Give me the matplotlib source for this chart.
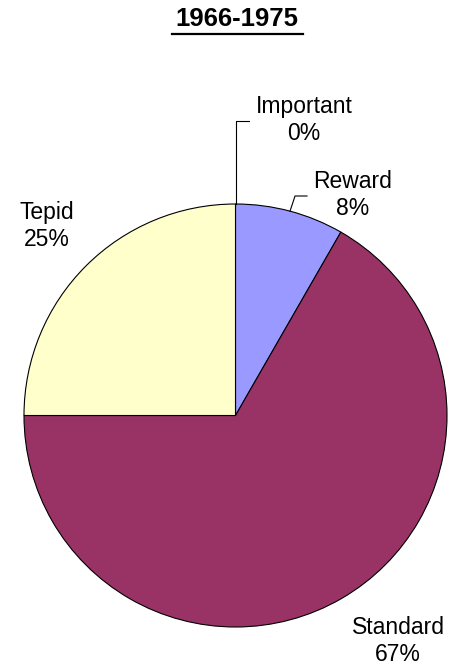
import numpy as np
import matplotlib.pyplot as plt

# slice data (clockwise from 12 o'clock)
labels = ['Important', 'Reward', 'Standard', 'Tepid']
shares = [0.0, 8.3, 66.7, 25.0]
colors = ['#FF8080', '#9999FF', '#993366', '#FFFFCC']
title = '1966-1975'

W, H = 450, 668
fig = plt.figure(figsize=(W / 100, H / 100), dpi=100)
ax = fig.add_axes([0, 0, 1, 1])

font = 'Liberation Sans'
cx, cy, r = 235.5, H - 415.5, 211.5

wedges, _ = ax.pie(shares, colors=colors, startangle=90, counterclock=False,
                   center=(cx, cy), radius=r, frame=True,
                   wedgeprops=dict(edgecolor='black', linewidth=0.8))
ax.set_xlim(0, W)
ax.set_ylim(0, H)
ax.set_aspect('equal')
ax.axis('off')

# title with underline
ax.text(237, H - 19, title, ha='center', va='center', fontsize=18.5,
        fontweight='bold', family=font)
ax.plot([172, 303], [H - 34, H - 34], color='black', lw=1.6)

# labels
pos = {'Important': (304, 120), 'Reward': (353, 195),
       'Tepid': (47, 226), 'Standard': (398, 641)}
for lab, val, w in zip(labels, shares, wedges):
    x, y = pos[lab]
    ax.text(x, H - y, f'{lab}\n{round(val):d}%', ha='center', va='center',
            fontsize=16.5, family=font, linespacing=1.2)

# leader lines for the small slices
def arc_point(w):
    a = np.deg2rad((w.theta1 + w.theta2) / 2)
    return cx + r * np.cos(a), cy + r * np.sin(a)

x0, y0 = arc_point(wedges[0])
ax.plot([x0, x0, x0 + 13], [y0, H - 121, H - 121], color='black', lw=0.8)
x1, y1 = arc_point(wedges[1])
ax.plot([x1, x1 + 5, x1 + 17], [y1, H - 196, H - 196], color='black', lw=0.8)

plt.savefig('out.png', dpi=100)
